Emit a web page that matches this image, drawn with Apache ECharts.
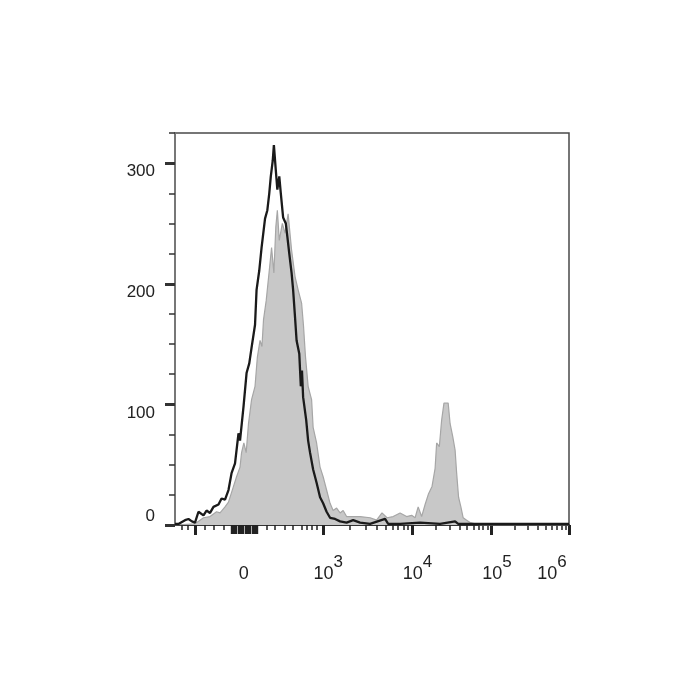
<!DOCTYPE html>
<html>
<head>
<meta charset="utf-8">
<script src="https://cdn.jsdelivr.net/npm/echarts@6/dist/echarts.min.js"></script>
<style>
  html, body { margin: 0; padding: 0; background: #fff; }
  #chart { width: 700px; height: 700px; }
</style>
</head>
<body>
<div id="chart"></div>
<script>
// x is display channel (0..1024, biexponential scale), y is event count
const blackX = [0, 10, 26, 35, 44, 52, 61, 74, 82, 91, 100, 113, 121, 130, 139, 147, 156, 165, 169, 178,
  186, 193, 199, 208, 212, 219, 225, 234, 240, 245, 249, 254, 257, 262, 266, 271, 275, 281, 288, 292,
  297, 303, 307, 312, 316, 323, 327, 330, 333, 341, 346, 351, 359, 368, 377, 385, 394, 403, 416, 429,
  446, 463, 481, 507, 546, 554, 585, 637, 689, 728, 736, 793, 897, 1024]
const blackY = [1, 1, 4, 5, 3, 2, 11, 8, 12, 10, 15, 17, 22, 21, 29, 43, 51, 76, 70, 98,
  126, 134, 147, 166, 195, 211, 230, 254, 261, 275, 289, 302, 315, 294, 278, 289, 275, 255, 250, 239,
  225, 209, 195, 172, 153, 142, 115, 128, 106, 87, 70, 60, 46, 35, 23, 18, 11, 6, 5, 3,
  2, 4, 2, 1, 5, 1, 1, 2, 1, 3, 1, 1, 1, 1]

const grayX = [0, 52, 65, 74, 91, 108, 117, 130, 139, 152, 160, 169, 173, 179, 185, 191, 199, 208, 214, 221,
  226, 230, 237, 245, 251, 257, 262, 266, 271, 279, 286, 294, 303, 312, 320, 329, 334, 339, 346, 355,
  359, 368, 377, 385, 394, 403, 411, 420, 429, 437, 446, 463, 481, 507, 524, 538, 551, 567, 585, 602,
  615, 624, 632, 641, 650, 659, 668, 676, 680, 687, 693, 699, 710, 715, 722, 728, 732, 737, 743, 749,
  758, 767, 793, 1024]
const grayY = [0, 1, 4, 6, 7, 11, 10, 15, 19, 32, 40, 48, 60, 68, 60, 84, 104, 115, 139, 153,
  148, 170, 186, 211, 230, 209, 247, 261, 236, 250, 242, 258, 228, 206, 195, 184, 165, 140, 115, 104,
  81, 68, 48, 40, 29, 18, 12, 14, 10, 12, 7, 7, 7, 6, 4, 10, 6, 7, 10, 7,
  8, 6, 15, 7, 17, 26, 32, 47, 68, 65, 87, 101, 101, 84, 73, 62, 43, 23, 15, 6,
  4, 2, 0, 0]

// axis decoration
const decadePos = [385, 616, 821, 1024]          // 10^3 .. 10^6
const lowMinorTicks = [17, 32, 78, 100, 126, 238, 260, 286, 307, 329, 342, 355, 368]
const zeroClusterTicks = [148, 153, 158, 166, 171, 176, 184, 189, 194, 202, 207, 212]
const majorTicks = [52, 385, 616, 821, 1024]
const xLabelValues = [179, 398, 630, 837, 980]
const xLabelTexts = ['0', '10^3', '10^4', '10^5', '10^6']
const yMajor = [0, 100, 200, 300]

const minorTicks = lowMinorTicks.slice()
for (let i = 0; i < decadePos.length - 1; i++) {
  for (let m = 2; m <= 9; m++) {
    minorTicks.push(decadePos[i] + (decadePos[i + 1] - decadePos[i]) * Math.log10(m))
  }
}

const chart = echarts.init(document.getElementById('chart'))
const font = 'Liberation Sans, Arial, sans-serif'

const option = {
  animation: false,
  backgroundColor: '#fff',
  grid: { left: 175, right: 131, top: 133, bottom: 175, show: true, borderColor: '#4a4a4a', borderWidth: 1.5 },
  xAxis: [
    {
      type: 'value', min: 0, max: 1024, position: 'bottom',
      splitLine: { show: false },
      axisLine: { show: true, onZero: false, lineStyle: { color: '#333', width: 2 } },
      axisTick: { show: true, customValues: minorTicks, length: 5, lineStyle: { color: '#222', width: 1.5 } },
      axisLabel: { show: false }
    },
    {
      type: 'value', min: 0, max: 1024, position: 'bottom',
      splitLine: { show: false },
      axisLine: { show: false, onZero: false },
      axisTick: { show: true, customValues: majorTicks, length: 10, lineStyle: { color: '#222', width: 3 } },
      axisLabel: {
        show: true,
        customValues: xLabelValues,
        margin: 29,
        formatter: function (v) {
          const i = xLabelValues.indexOf(v)
          const t = xLabelTexts[i] || ''
          if (t.indexOf('^') < 0) return '{b|' + t + '}'
          const p = t.split('^')
          return '{b|' + p[0] + '}{s|' + p[1] + '}'
        },
        rich: {
          b: { fontSize: 18, fontFamily: font, color: '#222', lineHeight: 40, verticalAlign: 'middle' },
          s: { fontSize: 17, fontFamily: font, color: '#222', lineHeight: 14, verticalAlign: 'top' }
        }
      }
    },
    {
      type: 'value', min: 0, max: 1024, position: 'bottom',
      splitLine: { show: false },
      axisLine: { show: false, onZero: false },
      axisTick: { show: true, customValues: zeroClusterTicks, length: 9, lineStyle: { color: '#222', width: 2.4 } },
      axisLabel: { show: false }
    }
  ],
  yAxis: [
    {
      type: 'value', min: 0, max: 325, interval: 25, position: 'left',
      splitLine: { show: false },
      axisLine: { show: true, onZero: false, lineStyle: { color: '#777', width: 2 } },
      axisTick: { show: true, length: 6, lineStyle: { color: '#333', width: 1.5 } },
      axisLabel: { show: true, customValues: [0], margin: 20, verticalAlign: 'bottom', fontSize: 17, fontFamily: font, color: '#222' }
    },
    {
      type: 'value', min: 0, max: 325, position: 'left',
      splitLine: { show: false },
      axisLine: { show: false, onZero: false },
      axisTick: { show: true, customValues: yMajor, length: 10, lineStyle: { color: '#333', width: 3 } },
      axisLabel: { show: true, customValues: [100, 200, 300], margin: 20, verticalAlign: 'top', fontSize: 17, fontFamily: font, color: '#222' }
    }
  ],
  series: [
    {
      name: 'stained', type: 'line', xAxisIndex: 0, yAxisIndex: 0, symbol: 'none',
      data: grayX.map((x, i) => [x, grayY[i]]),
      lineStyle: { color: '#a6a6a6', width: 1.2 },
      areaStyle: { color: '#c8c8c8', opacity: 1 },
      z: 2
    },
    {
      name: 'control', type: 'line', xAxisIndex: 0, yAxisIndex: 0, symbol: 'none',
      data: blackX.map((x, i) => [x, blackY[i]]),
      lineStyle: { color: '#1a1a1a', width: 2.3 },
      z: 3
    }
  ]
}
chart.setOption(option)
</script>
</body>
</html>
